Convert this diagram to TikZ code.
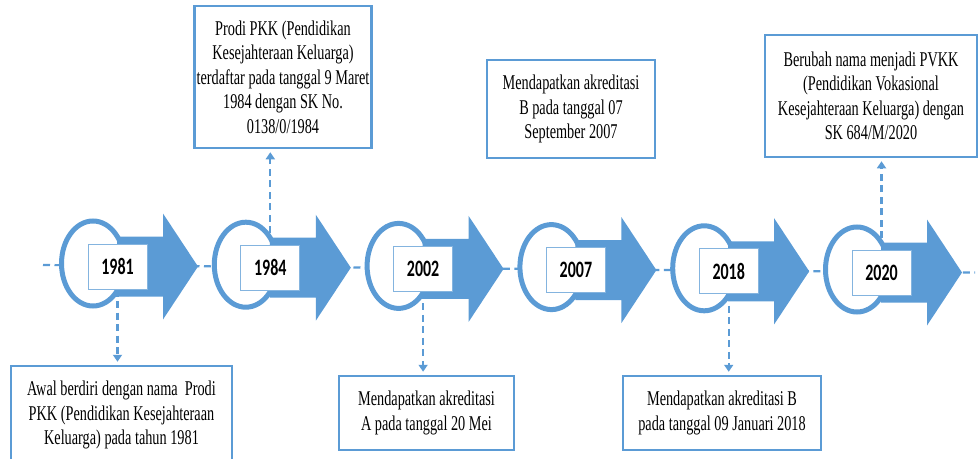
\documentclass[tikz,border=0pt]{standalone}
\usepackage{fontspec}
\setmainfont{Liberation Serif}[FakeStretch=0.68]
\newfontfamily\yearfont{Carlito}[FakeStretch=0.68]
\usetikzlibrary{arrows.meta,backgrounds}
\definecolor{tlblue}{RGB}{91,155,213}
\tikzset{
  infobox/.style={draw=tlblue,line width=2.5pt,fill=white,align=center,inner sep=2pt,
    font=\fontsize{21}{24.5}\selectfont},
  yearbox/.style={draw=tlblue!75,line width=1pt,fill=white,minimum width=59pt,
    minimum height=45pt,inner sep=0pt,font=\yearfont\bfseries\fontsize{23.5}{27}\selectfont},
  link/.style={tlblue,line width=2.2pt,dash pattern=on 7pt off 4.5pt,
    -{Triangle[width=9pt,length=7pt]},shorten >=3pt}
}
\begin{document}
\begin{tikzpicture}[x=1pt,y=-1pt]
\useasboundingbox (0,0) rectangle (980,458);
% timeline units
\foreach \yr [count=\i from 0] in {1981,1984,2002,2007,2018,2020}{
  \pgfmathsetmacro\tx{198+152.8*\i}
  \pgfmathsetmacro\ty{266.5+1.2*\i}
  \draw[tlblue,line width=5pt,fill=white] (\tx-105,\ty-3) ellipse [x radius=31.5pt,y radius=42.5pt];
  \fill[tlblue] (\tx-81,\ty-30) -- (\tx-35,\ty-30) -- (\tx-35,\ty-53) -- (\tx,\ty)
    -- (\tx-35,\ty+53) -- (\tx-35,\ty+30) -- (\tx-81,\ty+30) -- cycle;
  \node[yearbox] (y\yr) at (\tx-80.5,\ty) {\yr};
}
% info boxes
\node[infobox,minimum width=221pt,minimum height=98pt] (t1981) at (121.5,415)
  {Awal berdiri dengan nama\ \ Prodi\\PKK (Pendidikan Kesejahteraan\\Keluarga) pada tahun 1981};
\node[infobox,minimum width=174pt,minimum height=142pt] (t1984) at (283,77)
  {Prodi PKK\ (Pendidikan\\Kesejahteraan Keluarga)\\terdaftar pada tanggal 9 Maret\\1984 dengan SK No.\\0138/0/1984};
\node[infobox,minimum width=175pt,minimum height=74pt] (t2002) at (426.5,413)
  {Mendapatkan akreditasi\\A pada tanggal 20 Mei};
\node[infobox,minimum width=168pt,minimum height=98pt] (t2007) at (571,109)
  {Mendapatkan akreditasi\\B pada tanggal 07\\September 2007};
\node[infobox,minimum width=198pt,minimum height=74pt] (t2018) at (722,413)
  {Mendapatkan akreditasi B\\pada tanggal 09 Januari 2018};
\node[infobox,minimum width=212pt,minimum height=122pt] (t2020) at (871,96)
  {Berubah nama menjadi PVKK\\(Pendidikan Vokasional\\Kesejahteraan Keluarga) dengan\\SK 684/M/2020};
% axis and links
\begin{scope}[on background layer]
  \draw[tlblue,line width=2.2pt,dash pattern=on 7pt off 4.5pt] (43,265) -- (975,272.5);
  \draw[link] (y1981.south) -- (y1981.south |- t1981.north);
  \draw[link] (y1984.north) -- (y1984.north |- t1984.south);
  \draw[link] (y2002.south) -- (y2002.south |- t2002.north);
  \draw[link] (y2018.south) -- (y2018.south |- t2018.north);
  \draw[link] (y2020.north) -- (y2020.north |- t2020.south);
\end{scope}
\end{tikzpicture}
\end{document}
